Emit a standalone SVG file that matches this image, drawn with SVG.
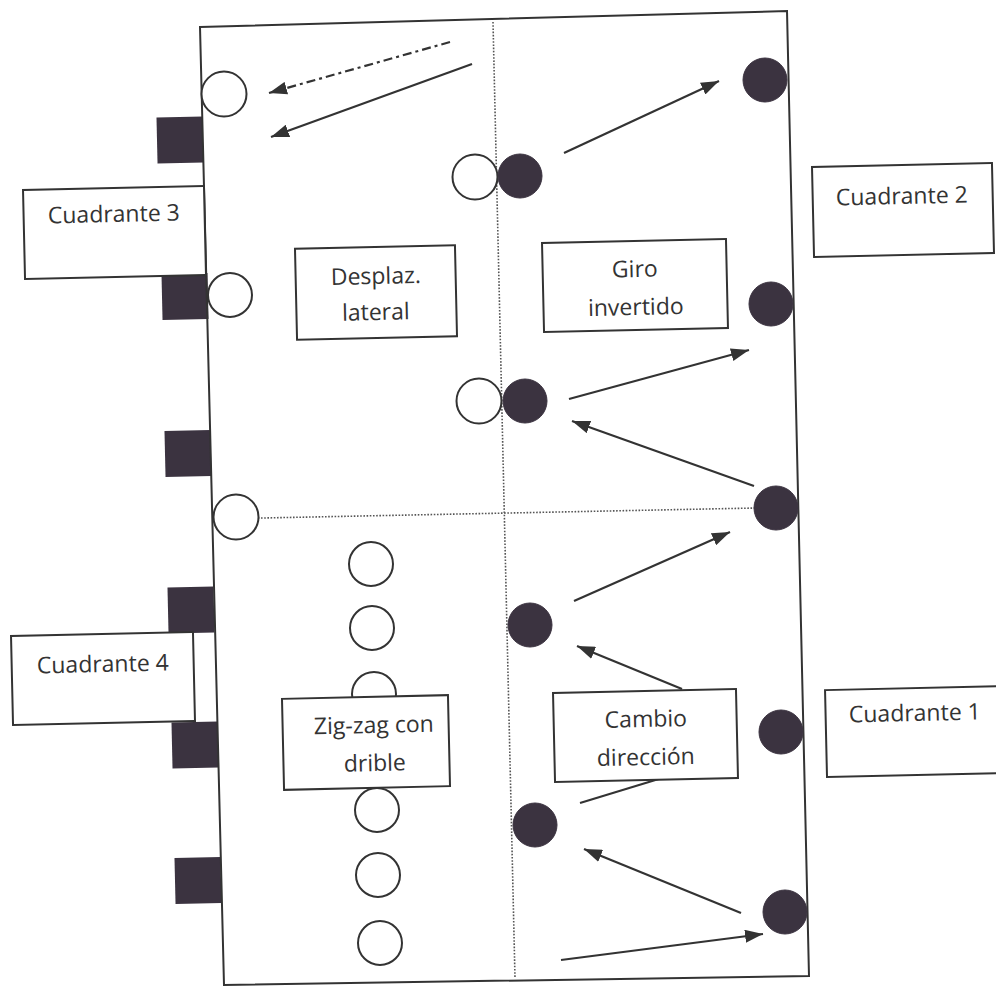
<svg xmlns="http://www.w3.org/2000/svg" width="996" height="987" viewBox="0 0 996 987">
<defs>
<style>
.ln{stroke:#333;stroke-width:2.2;fill:none}
.dot{stroke:#555;stroke-width:1.6;stroke-dasharray:1.6 1.6;fill:none}
.open{fill:#fff;stroke:#333;stroke-width:2}
.dark{fill:#3b3340;stroke:#3b3340;stroke-width:1}
.goal{fill:#3b3340}
.box{fill:#fff;stroke:#333;stroke-width:2}
.t{font-family:'Open Sans','Noto Sans',sans-serif;font-size:23px;fill:#333;text-anchor:middle}
</style>
<marker id="ah" viewBox="0 0 10 10" refX="10" refY="5" markerWidth="18" markerHeight="13" markerUnits="userSpaceOnUse" orient="auto" preserveAspectRatio="none">
<path d="M0,0 L10,5 L0,10 z" fill="#333"/>
</marker>
</defs>
<rect width="996" height="987" fill="#fff"/>

<g id="goals">
<rect id="goal1" class="goal" x="157" y="117" width="46" height="46" transform="rotate(-1.3 180 140)"/>
<rect id="goal2" class="goal" x="162" y="273.5" width="46" height="46" transform="rotate(-1.3 185 296.5)"/>
<rect id="goal3" class="goal" x="165" y="430.5" width="46" height="46" transform="rotate(-1.3 188 453.5)"/>
<rect id="goal4" class="goal" x="168" y="587" width="46" height="46" transform="rotate(-1.3 191 610)"/>
<rect id="goal5" class="goal" x="172" y="722" width="46" height="46" transform="rotate(-1.3 195 745)"/>
<rect id="goal6" class="goal" x="175" y="857.5" width="46" height="46" transform="rotate(-1.3 198 880.5)"/>
</g>

<g id="field">
<polygon class="ln" points="200,27 787,11 809,976 224,985" style="stroke-width:2"/>
<line class="dot" x1="493" y1="22" x2="515" y2="978"/>
<line class="dot" x1="213" y1="519" x2="756" y2="508"/>
</g>

<g id="players">
<circle id="o1" class="open" cx="224" cy="94" r="22.5"/>
<circle id="o2" class="open" cx="475" cy="177" r="22.5"/>
<circle id="o3" class="open" cx="230" cy="295" r="22"/>
<circle id="o4" class="open" cx="479" cy="401" r="22.5"/>
<circle id="o5" class="open" cx="236" cy="517" r="22.5"/>
<circle id="z1" class="open" cx="371" cy="564" r="22"/>
<circle id="z2" class="open" cx="372" cy="628" r="22"/>
<circle id="z3" class="open" cx="374" cy="694" r="22"/>
<circle id="z4" class="open" cx="377" cy="810" r="22"/>
<circle id="z5" class="open" cx="378" cy="875" r="22"/>
<circle id="z6" class="open" cx="380" cy="943" r="22"/>
<circle id="d1" class="dark" cx="765" cy="80" r="22"/>
<circle id="d2" class="dark" cx="520" cy="176" r="22"/>
<circle id="d3" class="dark" cx="771" cy="304" r="22"/>
<circle id="d4" class="dark" cx="525" cy="401" r="22"/>
<circle id="d5" class="dark" cx="776" cy="508" r="22"/>
<circle id="d6" class="dark" cx="530" cy="625" r="22"/>
<circle id="d7" class="dark" cx="781" cy="732" r="22"/>
<circle id="d8" class="dark" cx="535" cy="825" r="22"/>
<circle id="d9" class="dark" cx="785" cy="912" r="22"/>
</g>

<g id="connectors">
<line class="ln" x1="450" y1="42" x2="269" y2="93" style="stroke-dasharray:9 4 3 4" marker-end="url(#ah)"/>
<line class="ln" x1="472" y1="64" x2="271" y2="137" marker-end="url(#ah)"/>
<line class="ln" x1="564" y1="153" x2="719" y2="81" marker-end="url(#ah)"/>
<line class="ln" x1="569" y1="399" x2="749" y2="350" marker-end="url(#ah)"/>
<line class="ln" x1="754" y1="486" x2="572" y2="421" marker-end="url(#ah)"/>
<line class="ln" x1="574" y1="601" x2="730" y2="532" marker-end="url(#ah)"/>
<line class="ln" x1="682" y1="689" x2="577" y2="646" marker-end="url(#ah)"/>
<line class="ln" x1="580" y1="803" x2="662" y2="778"/>
<line class="ln" x1="741" y1="913" x2="584" y2="849" marker-end="url(#ah)"/>
<line class="ln" x1="561" y1="960" x2="763" y2="934" marker-end="url(#ah)"/>
</g>

<g id="cuadrante3">
<rect class="box" x="24" y="188" width="181" height="89" transform="rotate(-1.3 114.5 232.5)"/>
<text class="t" x="114" y="222" transform="rotate(-1.3 114 222)">Cuadrante 3</text>
</g>
<g id="cuadrante2">
<rect class="box" x="813" y="165" width="180" height="90" transform="rotate(-1.3 903 210)"/>
<text class="t" x="902" y="204" transform="rotate(-1.3 902 204)">Cuadrante 2</text>
</g>
<g id="cuadrante4">
<rect class="box" x="12" y="634" width="182" height="89" transform="rotate(-1.3 103 678.5)"/>
<text class="t" x="103" y="672" transform="rotate(-1.3 103 672)">Cuadrante 4</text>
</g>
<g id="cuadrante1">
<rect class="box" x="826" y="688" width="186" height="87" transform="rotate(-1.3 919 731.5)"/>
<text class="t" x="915" y="721" transform="rotate(-1.3 915 721)">Cuadrante 1</text>
</g>
<g id="desplaz">
<rect class="box" x="296" y="247" width="160" height="91" transform="rotate(-1.3 376 292.5)"/>
<text class="t" x="376" y="284" transform="rotate(-1.3 376 284)">Desplaz.</text>
<text class="t" x="376" y="320" transform="rotate(-1.3 376 320)">lateral</text>
</g>
<g id="giro">
<rect class="box" x="543" y="241" width="184" height="89" transform="rotate(-1.3 635 285.5)"/>
<text class="t" x="635" y="277" transform="rotate(-1.3 635 277)">Giro</text>
<text class="t" x="636" y="315" transform="rotate(-1.3 636 315)">invertido</text>
</g>
<g id="zigzag">
<rect class="box" x="283" y="697" width="166" height="91" transform="rotate(-1.3 366 742.5)"/>
<text class="t" x="374" y="733" transform="rotate(-1.3 374 733)">Zig-zag con</text>
<text class="t" x="375" y="771" transform="rotate(-1.3 375 771)">drible</text>
</g>
<g id="cambio">
<rect class="box" x="554" y="691" width="183" height="89" transform="rotate(-1.3 645.5 735.5)"/>
<text class="t" x="646" y="727" transform="rotate(-1.3 646 727)">Cambio</text>
<text class="t" x="646" y="765" transform="rotate(-1.3 646 765)">dirección</text>
</g>
</svg>
